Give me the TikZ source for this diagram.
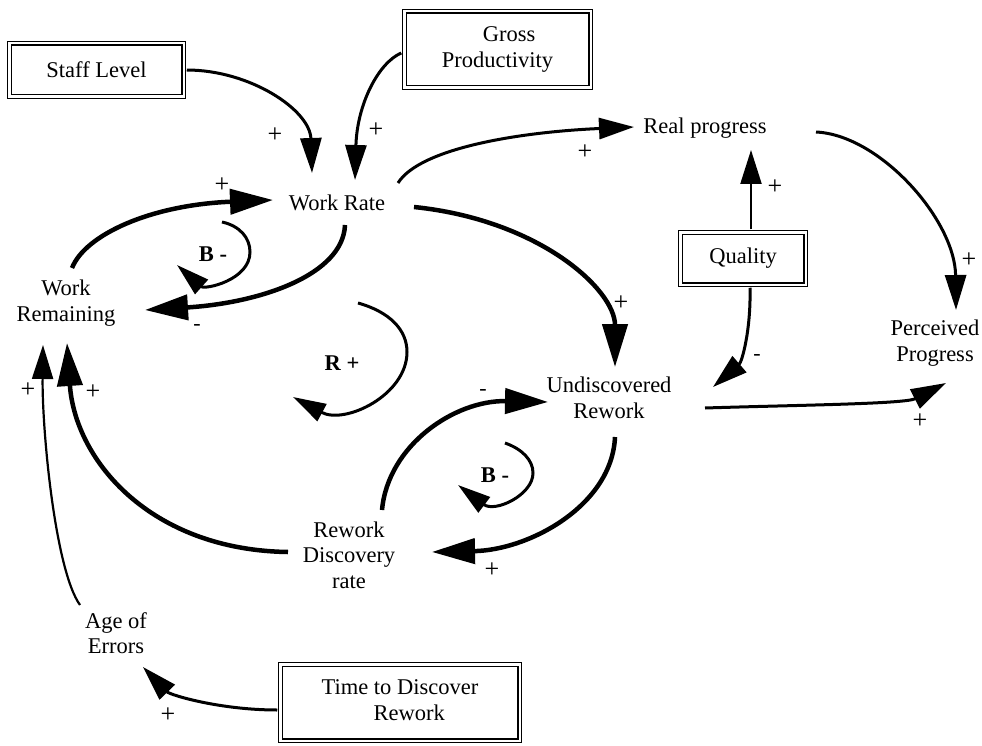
\documentclass[tikz,border=0pt]{standalone}
\usepackage{fontspec}
\setmainfont{Liberation Serif}
\usetikzlibrary{arrows.meta,calc}

\begin{document}
\begin{tikzpicture}[x=1pt,y=-1pt,
  every node/.style={font=\fontsize{22.5}{25.5}\selectfont, inner sep=0pt},
  var/.style={align=center},
  cbox/.style={draw, double, line width=1.3pt, double distance=2.2pt},
  sgn/.style={font=\fontsize{26}{26}\selectfont},
  neg/.style={font=\fontsize{22}{22}\selectfont},
  loopname/.style={font=\fontsize{22.5}{22.5}\selectfont\bfseries},
  heavy/.style={line width=4.5pt, -{Triangle[length=43pt,width=25pt]}},
  medium/.style={line width=3pt, -{Triangle[length=35pt,width=21pt]}},
  light/.style={line width=2.2pt, -{Triangle[length=34pt,width=21pt]}},
  loopline/.style={line width=3pt, -{Triangle[length=33pt,width=19pt]}},
]
\useasboundingbox (0,0) rectangle (982,746);

% exogenous inputs (double-framed boxes)
\node[cbox, minimum width=174.2pt, minimum height=53.2pt] (staff) at (96.5,70)
  {Staff Level\hspace{33pt}};
\node[cbox, minimum width=186.2pt, minimum height=76.2pt] (gross) at (497.5,49.5)
  {\begin{tabular}{@{}l@{}}\hspace{41pt}Gross\\Productivity\end{tabular}\hspace{34pt}};
\node[cbox, minimum width=125.2pt, minimum height=52.2pt] (quality) at (743,258.5)
  {Quality\hspace{19pt}};
\node[cbox, minimum width=239.2pt, minimum height=76.2pt] (tdr) at (400,702.5)
  {\begin{tabular}{@{}l@{}}Time to Discover\\\hspace{52pt}Rework\end{tabular}\hspace{37pt}};

% model variables
\node[var] (wrate)  at (337,203)  {Work Rate};
\node[var] (wrem)   at (66,303)   {Work\\Remaining};
\node[var] (real)   at (705,128)  {Real progress};
\node[var] (perc)   at (935,343)  {Perceived\\Progress};
\node[var] (undisc) at (609,398)  {Undiscovered\\Rework};
\node[var] (rdr)    at (349,555)  {Rework\\Discovery\\rate};
\node[var] (age)    at (116,633)  {Age of\\Errors};

% loop identifiers
\node[loopname] (b1) at (213,254) {B -};
\node[loopname] (r1) at (342,363) {R +};
\node[loopname] (b2) at (495,475) {B -};

% causal links
\draw[medium] ($(staff.east)+(2.5,0)$) .. controls (250,70) and (310,110) .. ($(wrate)+(-25,-30)$);
\draw[medium] ($(gross.west)+(-2.5,3.5)$) .. controls (378,63) and (357,105) .. ($(wrate)+(18,-23)$);
\draw[heavy] ($(wrem)+(6,-35)$) .. controls (85,235) and (150,205) .. ($(wrate)+(-64,-3)$);
\draw[heavy] ($(wrate)+(8,22)$) .. controls (343,275) and (260,303) .. ($(wrem)+(79,7)$);
\draw[medium] ($(wrate)+(61,-20)$) .. controls (420,148) and (520,132) .. ($(real)+(-71,-1)$);
\draw[heavy] ($(wrate)+(77,4)$) .. controls (540,220) and (615,290) .. ($(undisc)+(6,-31)$);
\draw[medium] ($(real)+(111,4)$) .. controls (880,135) and (955,220) .. ($(perc)+(21,-33)$);
\draw[light] ($(quality.north)+(8,-2.5)$) -- ($(real)+(46,22)$);
\draw[medium] ($(quality.south)+(7,2.5)$) .. controls (751,330) and (742,362) .. ($(undisc)+(104,-11)$);
\draw[medium] ($(undisc)+(96,10)$) .. controls (800,405) and (905,404) .. ($(perc)+(11,40)$);
\draw[heavy] ($(rdr)+(33,-45)$) .. controls (388,445) and (455,400) .. ($(undisc)+(-61,4)$);
\draw[heavy] ($(undisc)+(6,39)$) .. controls (612,505) and (530,550) .. ($(rdr)+(83,-3)$);
\draw[heavy] ($(rdr)+(-61,-3)$) .. controls (150,550) and (75,460) .. ($(wrem)+(1,40)$);
\draw[light] ($(age)+(-36,-28)$) .. controls (55,570) and (42,430) .. ($(wrem)+(-23,42)$);
\draw[medium] ($(tdr.west)+(-2.5,7.5)$) .. controls (220,710) and (170,695) .. ($(age)+(27,34)$);

% loop arrows
\draw[loopline] (222,222) .. controls (240,226) and (250,238) .. (250,252)
  .. controls (250,280) and (205,290) .. (177,265);
\draw[loopline] (358,303) .. controls (390,312) and (407,330) .. (407,352)
  .. controls (407,395) and (345,425) .. (293,397);
\draw[loopline] (505,443) .. controls (522,449) and (533,460) .. (533,473)
  .. controls (533,495) and (495,513) .. (458,485);

% link polarities
\node[sgn] (p1)  at (275,135) {+};
\node[sgn] (p2)  at (376,130) {+};
\node[sgn] (p3)  at (222,185) {+};
\node[neg] (m1)  at (197,327) {-};
\node[sgn] (p4)  at (585,152) {+};
\node[sgn] (p5)  at (775,187) {+};
\node[sgn] (p6)  at (621,303) {+};
\node[sgn] (p7)  at (969,260) {+};
\node[neg] (m2)  at (757,357) {-};
\node[sgn] (p8)  at (920,421) {+};
\node[neg] (m3)  at (483,392) {-};
\node[sgn] (p9)  at (492,570) {+};
\node[sgn] (p10) at (28,390)  {+};
\node[sgn] (p11) at (93,392)  {+};
\node[sgn] (p12) at (168,715) {+};
\end{tikzpicture}
\end{document}
